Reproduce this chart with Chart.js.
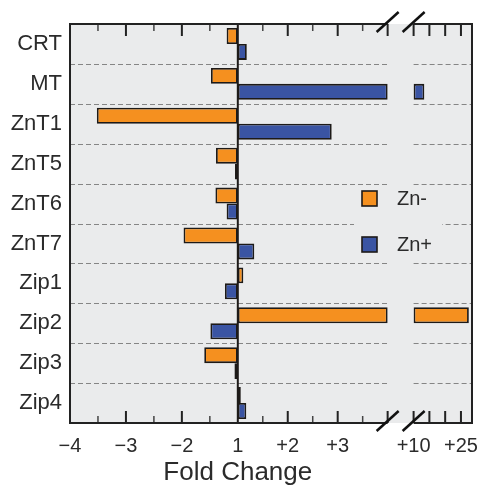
<!DOCTYPE html>
<html>
<head>
<meta charset="utf-8">
<script src="https://cdn.jsdelivr.net/npm/chart.js@4.4.0/dist/chart.umd.min.js"></script>
<style>
html, body { margin: 0; padding: 0; background: #fff; }
canvas { display: block; }
</style>
</head>
<body>
<canvas id="foldChart" width="481" height="485"></canvas>
<script>
// genes on the y axis, top to bottom
const categories = ['CRT', 'MT', 'ZnT1', 'ZnT5', 'ZnT6', 'ZnT7', 'Zip1', 'Zip2', 'Zip3', 'Zip4'];
// fold change, negative = down-regulated (−2 means half)
const znMinus = [-1.2, -1.48, -3.52, -1.39, -1.4, -1.97, 1.11, 27.5, -1.6, 1.06];
const znPlus = [1.18, 13.4, 2.88, -1.05, -1.2, 1.33, -1.23, -1.49, -1.06, 1.17];

// labelled ticks on the x axis
const tickValues = [-4, -3, -2, 1, 2, 3, 10, 25];
const tickLabels = ['\u22124', '\u22123', '\u22122', '1', '+2', '+3', '+10', '+25'];
const majorTicks = [-3, -2, 2, 3, 4, 10, 15, 20, 25];
const minorTicks = [-3.5, -2.5, -1.5, 1.5, 2.5, 3.5];

const ORANGE = '#f5901f';
const BLUE = '#3a54a3';
const EDGE = '#1d1a18';
const PLOT_BG = '#eaebec';
const TEXT = '#2b2b2b';
const FONT = "'Liberation Sans', Arial, sans-serif";

// broken axis: the negative side is a bit wider per unit, and 4..10 is cut out
const NEG_UNIT = 1.12;
const BREAK_LO = 4;
const BREAK_HI = 10;
const GAP = 0.52;
const RIGHT_UNIT = 0.0632;

function toAxis(fc) {
    if (fc < 0) return -(-fc - 1) * NEG_UNIT;
    if (fc <= BREAK_LO) return fc - 1;
    return (BREAK_LO - 1) + GAP + (fc - BREAK_HI) * RIGHT_UNIT;
}

// part of the bar before the break
function mainPart(values) {
    return values.map(v => v > BREAK_LO ? toAxis(BREAK_LO) : toAxis(v));
}
// part of the bar after the break (null if the bar is short)
function farPart(values) {
    return values.map(v => v > BREAK_LO ? [toAxis(BREAK_HI), toAxis(v)] : null);
}

const brokenAxis = {
    id: 'brokenAxis',
    beforeDraw(chart) {
        const {ctx, chartArea: a} = chart;
        ctx.save();
        ctx.fillStyle = PLOT_BG;
        ctx.fillRect(a.left, a.top, a.right - a.left, a.bottom - a.top);
        ctx.restore();
    },
    beforeDatasetsDraw(chart) {
        const {ctx, chartArea: a, scales: {x, y}} = chart;
        const xb1 = x.getPixelForValue(toAxis(BREAK_LO));
        const xb2 = x.getPixelForValue(toAxis(BREAK_HI));
        ctx.save();
        ctx.strokeStyle = '#858585';
        ctx.lineWidth = 1.2;
        ctx.setLineDash([5, 3]);
        for (let i = 1; i < categories.length; i++) {
            const yy = Math.round((y.getPixelForValue(i - 1) + y.getPixelForValue(i)) / 2) + 0.5;
            ctx.beginPath();
            ctx.moveTo(a.left, yy);
            ctx.lineTo(xb1, yy);
            ctx.moveTo(xb2, yy);
            ctx.lineTo(a.right, yy);
            ctx.stroke();
        }
        ctx.restore();
    },
    afterDraw(chart) {
        const {ctx, chartArea: a, scales: {x}} = chart;
        const xb1 = x.getPixelForValue(toAxis(BREAK_LO));
        const xb2 = x.getPixelForValue(toAxis(BREAK_HI));
        const x0 = x.getPixelForValue(0);
        const top = Math.round(a.top);
        const bottom = Math.round(a.bottom);
        ctx.save();
        ctx.setLineDash([]);

        // line at no change
        ctx.strokeStyle = EDGE;
        ctx.lineWidth = 2;
        ctx.beginPath();
        ctx.moveTo(x0, top);
        ctx.lineTo(x0, bottom);
        ctx.stroke();

        // tick marks point inwards, top and bottom
        const tickSets = [[majorTicks, 12, 2, '#222'], [minorTicks, 7, 1.5, '#444']];
        tickSets.forEach(([list, len, w, col]) => {
            ctx.fillStyle = col;
            list.forEach(v => {
                const px = x.getPixelForValue(toAxis(v)) - w / 2;
                ctx.fillRect(px, top, w, len);
                ctx.fillRect(px, bottom - len, w, len);
            });
        });

        // frame, with a gap at the break
        ctx.strokeStyle = '#222';
        ctx.lineWidth = 2;
        ctx.beginPath();
        ctx.moveTo(xb1, top); ctx.lineTo(a.left, top); ctx.lineTo(a.left, bottom); ctx.lineTo(xb1, bottom);
        ctx.moveTo(xb2, top); ctx.lineTo(a.right, top); ctx.lineTo(a.right, bottom); ctx.lineTo(xb2, bottom);
        ctx.stroke();

        // break marks
        ctx.strokeStyle = '#111';
        ctx.lineWidth = 2.5;
        [xb1, xb2].forEach(px => {
            [top - 2, bottom - 2].forEach(py => {
                ctx.beginPath();
                ctx.moveTo(px - 11, py + 10);
                ctx.lineTo(px + 11, py - 10);
                ctx.stroke();
            });
        });

        // legend inside the plot
        ctx.fillStyle = PLOT_BG;
        ctx.fillRect(354, 212, 88, 24);
        const items = [['Zn-', ORANGE, 191], ['Zn+', BLUE, 237]];
        ctx.font = '20px ' + FONT;
        ctx.textBaseline = 'middle';
        ctx.textAlign = 'left';
        items.forEach(([label, color, y0]) => {
            ctx.fillStyle = color;
            ctx.fillRect(362, y0, 15, 15);
            ctx.strokeStyle = EDGE;
            ctx.lineWidth = 1.6;
            ctx.strokeRect(362, y0, 15, 15);
            ctx.fillStyle = TEXT;
            ctx.fillText(label, 397, y0 + 8);
        });

        // axis title, centred under the no-change line
        ctx.font = '26px ' + FONT;
        ctx.textAlign = 'center';
        ctx.textBaseline = 'alphabetic';
        ctx.fillStyle = TEXT;
        ctx.fillText('Fold Change', x0, 480);
        ctx.restore();
    }
};

const ctx = document.getElementById('foldChart').getContext('2d');

new Chart(ctx, {
    type: 'bar',
    data: {
        labels: categories,
        datasets: [
            { label: 'Zn-', data: mainPart(znMinus), backgroundColor: ORANGE, stack: 'minus' },
            { label: 'Zn+', data: mainPart(znPlus), backgroundColor: BLUE, stack: 'plus' },
            { label: 'Zn- far', data: farPart(znMinus), backgroundColor: ORANGE, stack: 'minus' },
            { label: 'Zn+ far', data: farPart(znPlus), backgroundColor: BLUE, stack: 'plus' }
        ]
    },
    options: {
        indexAxis: 'y',
        responsive: false,
        animation: false,
        layout: { padding: { top: 24, right: 9, left: 0, bottom: 0 } },
        datasets: {
            bar: {
                categoryPercentage: 0.8,
                barPercentage: 1.0,
                borderWidth: 1.8,
                borderColor: EDGE,
                borderSkipped: false
            }
        },
        plugins: {
            legend: { display: false },
            tooltip: { enabled: false }
        },
        scales: {
            x: {
                type: 'linear',
                stacked: false,
                min: toAxis(-4),
                max: toAxis(28.5),
                grid: { display: false, drawTicks: false },
                border: { display: false },
                afterBuildTicks: scale => {
                    scale.ticks = tickValues.map(v => ({ value: toAxis(v) }));
                },
                ticks: {
                    autoSkip: false,
                    maxRotation: 0,
                    padding: 11,
                    color: TEXT,
                    font: { family: FONT, size: 20 },
                    callback: (value, index) => tickLabels[index]
                },
                afterFit: scale => {
                    scale.height = 62;
                    scale.paddingLeft = 0;
                    scale.paddingRight = 0;
                }
            },
            y: {
                grid: { display: false, drawTicks: false },
                border: { display: false },
                ticks: {
                    padding: 8,
                    color: TEXT,
                    font: { family: FONT, size: 22 }
                },
                afterFit: scale => { scale.width = 70; }
            }
        }
    },
    plugins: [brokenAxis]
});
</script>
</body>
</html>
